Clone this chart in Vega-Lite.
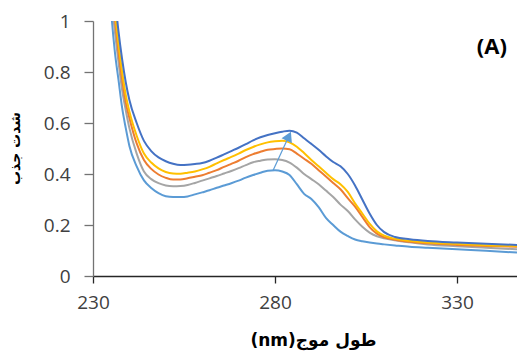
{
  "$schema": "https://vega.github.io/schema/vega-lite/v6.json",
  "autosize": "none",
  "width": 424,
  "height": 255,
  "padding": {"left": 93, "top": 21, "right": 0, "bottom": 77},
  "background": "white",
  "config": {"view": {"stroke": null}},
  "datasets": {
    "spectra": [
      {"wl":233,"s1":2.0,"s2":1.9,"s3":1.8,"s4":1.7,"s5":1.6},
      {"wl":234,"s1":1.6,"s2":1.48,"s3":1.42,"s4":1.35,"s5":1.3},
      {"wl":235,"s1":1.3,"s2":1.2,"s3":1.15,"s4":1.1,"s5":1.04},
      {"wl":236,"s1":1.1,"s2":1.04,"s3":1.01,"s4":0.96,"s5":0.88},
      {"wl":237,"s1":0.96,"s2":0.91,"s3":0.88,"s4":0.84,"s5":0.77},
      {"wl":238,"s1":0.85,"s2":0.8,"s3":0.77,"s4":0.73,"s5":0.66},
      {"wl":239,"s1":0.76,"s2":0.71,"s3":0.68,"s4":0.65,"s5":0.58},
      {"wl":240,"s1":0.69,"s2":0.645,"s3":0.62,"s4":0.58,"s5":0.51},
      {"wl":242,"s1":0.6,"s2":0.55,"s3":0.52,"s4":0.48,"s5":0.43},
      {"wl":244,"s1":0.53,"s2":0.48,"s3":0.455,"s4":0.41,"s5":0.375},
      {"wl":246,"s1":0.49,"s2":0.445,"s3":0.42,"s4":0.38,"s5":0.345},
      {"wl":248,"s1":0.465,"s2":0.422,"s3":0.398,"s4":0.364,"s5":0.325},
      {"wl":250,"s1":0.45,"s2":0.408,"s3":0.385,"s4":0.355,"s5":0.313},
      {"wl":252,"s1":0.44,"s2":0.402,"s3":0.378,"s4":0.352,"s5":0.31},
      {"wl":254,"s1":0.435,"s2":0.401,"s3":0.378,"s4":0.353,"s5":0.31},
      {"wl":256,"s1":0.436,"s2":0.405,"s3":0.383,"s4":0.357,"s5":0.312},
      {"wl":258,"s1":0.439,"s2":0.41,"s3":0.389,"s4":0.365,"s5":0.32},
      {"wl":260,"s1":0.443,"s2":0.418,"s3":0.395,"s4":0.374,"s5":0.328},
      {"wl":262,"s1":0.452,"s2":0.428,"s3":0.405,"s4":0.383,"s5":0.336},
      {"wl":264,"s1":0.464,"s2":0.442,"s3":0.415,"s4":0.392,"s5":0.346},
      {"wl":266,"s1":0.477,"s2":0.455,"s3":0.428,"s4":0.402,"s5":0.355},
      {"wl":268,"s1":0.49,"s2":0.467,"s3":0.44,"s4":0.412,"s5":0.364},
      {"wl":270,"s1":0.503,"s2":0.48,"s3":0.452,"s4":0.423,"s5":0.374},
      {"wl":272,"s1":0.517,"s2":0.494,"s3":0.466,"s4":0.435,"s5":0.386},
      {"wl":274,"s1":0.532,"s2":0.506,"s3":0.478,"s4":0.446,"s5":0.396},
      {"wl":276,"s1":0.544,"s2":0.516,"s3":0.487,"s4":0.452,"s5":0.405},
      {"wl":278,"s1":0.553,"s2":0.524,"s3":0.495,"s4":0.457,"s5":0.413},
      {"wl":280,"s1":0.56,"s2":0.528,"s3":0.498,"s4":0.458,"s5":0.415},
      {"wl":282,"s1":0.566,"s2":0.53,"s3":0.5,"s4":0.455,"s5":0.41},
      {"wl":284,"s1":0.57,"s2":0.524,"s3":0.497,"s4":0.445,"s5":0.396},
      {"wl":286,"s1":0.562,"s2":0.507,"s3":0.48,"s4":0.425,"s5":0.36},
      {"wl":288,"s1":0.54,"s2":0.482,"s3":0.46,"s4":0.4,"s5":0.322},
      {"wl":290,"s1":0.518,"s2":0.455,"s3":0.44,"s4":0.38,"s5":0.302},
      {"wl":292,"s1":0.495,"s2":0.43,"s3":0.415,"s4":0.36,"s5":0.27},
      {"wl":294,"s1":0.47,"s2":0.405,"s3":0.39,"s4":0.335,"s5":0.228},
      {"wl":296,"s1":0.447,"s2":0.38,"s3":0.365,"s4":0.31,"s5":0.2},
      {"wl":298,"s1":0.43,"s2":0.36,"s3":0.34,"s4":0.28,"s5":0.174},
      {"wl":300,"s1":0.4,"s2":0.33,"s3":0.305,"s4":0.255,"s5":0.157},
      {"wl":302,"s1":0.355,"s2":0.285,"s3":0.272,"s4":0.222,"s5":0.143},
      {"wl":304,"s1":0.3,"s2":0.245,"s3":0.232,"s4":0.193,"s5":0.136},
      {"wl":306,"s1":0.245,"s2":0.205,"s3":0.192,"s4":0.17,"s5":0.131},
      {"wl":308,"s1":0.2,"s2":0.175,"s3":0.166,"s4":0.156,"s5":0.127},
      {"wl":310,"s1":0.172,"s2":0.158,"s3":0.152,"s4":0.148,"s5":0.124},
      {"wl":313,"s1":0.153,"s2":0.146,"s3":0.142,"s4":0.14,"s5":0.12},
      {"wl":317,"s1":0.144,"s2":0.138,"s3":0.134,"s4":0.132,"s5":0.115},
      {"wl":322,"s1":0.137,"s2":0.131,"s3":0.128,"s4":0.124,"s5":0.111},
      {"wl":330,"s1":0.131,"s2":0.126,"s3":0.122,"s4":0.117,"s5":0.105},
      {"wl":338,"s1":0.126,"s2":0.121,"s3":0.118,"s4":0.111,"s5":0.099},
      {"wl":346.5,"s1":0.122,"s2":0.118,"s3":0.115,"s4":0.105,"s5":0.092}
    ],
    "arrow": [{"x0": 279.5, "y0": 0.415, "x1": 283.8, "y1": 0.548}],
    "label": [{"wl": 339.6, "abs": 0.9, "text": "(A)"}]
  },
  "layer": [
    {
      "mark": {"type": "rule", "color": "#7f7f7f", "strokeWidth": 1.5},
      "encoding": {"y": {"datum": 1, "type": "quantitative", "scale": {"domain": [0, 1]}}}
    },
    {
      "data": {"name": "spectra"},
      "transform": [{"fold": ["s5", "s4", "s3", "s2", "s1"], "as": ["series", "abs"]}],
      "mark": {"type": "line", "strokeWidth": 2, "clip": true, "interpolate": "monotone"},
      "encoding": {
        "x": {
          "field": "wl", "type": "quantitative",
          "scale": {"domain": [230, 346.5], "nice": false, "zero": false},
          "axis": {
            "values": [230, 280, 330], "grid": false, "labelFlush": false, "labelOverlap": false,
            "domainColor": "#262626", "domainWidth": 1.3,
            "tickColor": "#262626", "tickSize": 7, "tickWidth": 1.3,
            "labelFont": "Open Sans", "labelFontSize": 19, "labelColor": "#404040", "labelPadding": 10,
            "title": "(nm)طول موج", "titleFont": "DejaVu Sans", "titleFontSize": 17, "titleFontWeight": "bold",
            "titleColor": "#000000", "titleX": 220, "titleY": 64, "titleBaseline": "middle", "titleAlign": "center"
          }
        },
        "y": {
          "field": "abs", "type": "quantitative",
          "scale": {"domain": [0, 1], "nice": false},
          "axis": {
            "values": [0, 0.2, 0.4, 0.6, 0.8, 1], "format": ".1~f", "grid": false, "labelFlush": false, "labelOverlap": false,
            "domainColor": "#737373", "domainWidth": 1.3,
            "tickColor": "#737373", "tickSize": 9, "tickWidth": 1.3,
            "labelFont": "Open Sans", "labelFontSize": 19, "labelColor": "#404040", "labelPadding": 14,
            "title": "شدت جذب", "titleFont": "DejaVu Sans", "titleFontSize": 14, "titleFontWeight": "bold",
            "titleColor": "#000000", "titleAngle": -90, "titleX": -78, "titleY": 127,
            "titleBaseline": "middle", "titleAlign": "center"
          }
        },
        "color": {
          "field": "series", "type": "nominal",
          "scale": {"domain": ["s1", "s2", "s3", "s4", "s5"], "range": ["#4472C4", "#FFC000", "#ED7D31", "#A5A5A5", "#5B9BD5"]},
          "legend": null
        }
      }
    },
    {
      "data": {"name": "arrow"},
      "mark": {"type": "rule", "color": "#5B9BD5", "strokeWidth": 1.2},
      "encoding": {
        "x": {"field": "x0", "type": "quantitative"},
        "y": {"field": "y0", "type": "quantitative"},
        "x2": {"field": "x1"},
        "y2": {"field": "y1"}
      }
    },
    {
      "data": {"name": "arrow"},
      "mark": {"type": "point", "shape": "triangle-up", "filled": true, "color": "#5B9BD5", "opacity": 1, "size": 130, "angle": 25},
      "encoding": {
        "x": {"field": "x1", "type": "quantitative"},
        "y": {"field": "y1", "type": "quantitative"}
      }
    },
    {
      "data": {"name": "label"},
      "mark": {"type": "text", "font": "Open Sans", "fontSize": 22, "fontWeight": "bold", "color": "#000000", "align": "center", "baseline": "middle"},
      "encoding": {
        "x": {"field": "wl", "type": "quantitative"},
        "y": {"field": "abs", "type": "quantitative"},
        "text": {"field": "text"}
      }
    }
  ]
}
